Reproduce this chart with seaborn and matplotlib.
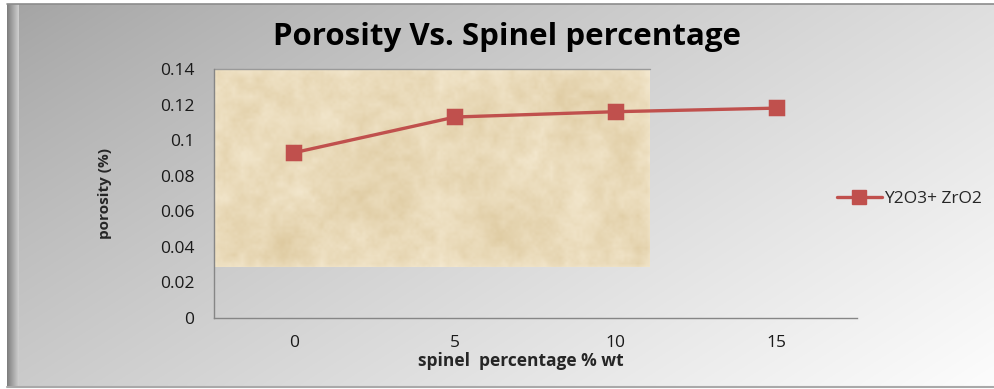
import numpy as np
import pandas as pd
import matplotlib
matplotlib.use("Agg")
import matplotlib.pyplot as plt
from matplotlib.lines import Line2D
import seaborn as sns

# Data
spinel_pct = ["0", "5", "10", "15"]
porosity = [0.093, 0.113, 0.116, 0.118]
series_name = "Y2O3+ ZrO2"
y_ticks = [0, 0.02, 0.04, 0.06, 0.08, 0.1, 0.12, 0.14]
y_tick_labels = ["0", "0.02", "0.04", "0.06", "0.08", "0.1", "0.12", "0.14"]

df = pd.DataFrame({"spinel": spinel_pct, "porosity": porosity})

sns.set_theme(style="white")
plt.rcParams["font.family"] = ["Open Sans", "DejaVu Sans"]

W, H, DPI = 995, 389, 100
fig = plt.figure(figsize=(W / DPI, H / DPI), dpi=DPI)
fig.patch.set_facecolor("white")

# Chart-area background: diagonal grey gradient with a bevelled left edge
bg = fig.add_axes([0, 0, 1, 1], zorder=-10)
bg.set_xlim(0, W)
bg.set_ylim(H, 0)
bg.axis("off")
gx, gy = np.meshgrid(np.linspace(0, 1, 400), np.linspace(0, 1, 160))
t = np.clip(0.62 * gx + 0.38 * gy, 0, 1)
shade = 0.64 + 0.35 * t ** 0.85
grad = np.dstack([shade, shade, shade])
bg.imshow(grad, extent=(8, W, 386, 4), aspect="auto", interpolation="bicubic")
# bevel on the left edge
bev = np.linspace(0.50, 0.80, 12)
bev_img = np.repeat(np.dstack([bev, bev, bev]), 2, axis=0)
bg.imshow(bev_img, extent=(7, 19, 386, 4), aspect="auto", interpolation="bilinear")
bg.plot([7, W], [4, 4], color="#8c8c8c", lw=1.2)
bg.plot([7, W], [386.5, 386.5], color="#a9a9a9", lw=1.5)

# Plot area
ax = fig.add_axes([214 / W, 1 - 318 / H, (857 - 214) / W, (318 - 69) / H])
ax.set_facecolor("none")

# Parchment texture panel behind the line
rng = np.random.default_rng(7)
tex = np.zeros((200, 440))
for s, a in [(3, 0.12), (8, 0.28), (20, 0.32), (50, 0.28)]:
    small = rng.random((200 // s + 2, 440 // s + 2))
    big = np.kron(small, np.ones((s, s)))[:200, :440]
    k = max(2, s)
    ker = np.ones(k) / k
    big = np.apply_along_axis(lambda r: np.convolve(r, ker, mode="same"), 1, big)
    big = np.apply_along_axis(lambda c: np.convolve(c, ker, mode="same"), 0, big)
    tex += a * big
tex = (tex - tex.min()) / (tex.max() - tex.min())
light = np.array([245, 234, 210]) / 255
dark = np.array([222, 202, 160]) / 255
tex_rgb = light[None, None, :] * (1 - tex[..., None]) + dark[None, None, :] * tex[..., None]
ax.imshow(tex_rgb, extent=(-0.5, 2.21, 0.0284, 0.14), aspect="auto",
          interpolation="bilinear", zorder=0)
ax.plot([-0.5, 2.21], [0.14, 0.14], color="#9a9a9a", lw=1.0, zorder=1, clip_on=False)

line_color = "#C0504D"
sns.pointplot(data=df, x="spinel", y="porosity", order=spinel_pct, color=line_color,
              markers="s", linewidth=2.4, markersize=10.5, errorbar=None, ax=ax, zorder=3)

ax.set_xlim(-0.5, 3.5)
ax.set_ylim(0, 0.14)
ax.set_yticks(y_ticks)
ax.set_yticklabels(y_tick_labels)
ax.set_xticks(range(len(spinel_pct)))
ax.set_xticklabels(spinel_pct)
ax.set_xticks(np.arange(-0.5, 3.6, 1.0), minor=True)
ax.tick_params(axis="x", which="major", length=0, pad=12, labelsize=12.5, colors="#1a1a1a")
ax.tick_params(axis="x", which="minor", length=5, width=1, color="#868686", direction="out")
ax.tick_params(axis="y", length=6, width=1, color="#868686", direction="out", pad=8,
               labelsize=12.5, labelcolor="#1a1a1a")
for side in ["top", "right"]:
    ax.spines[side].set_visible(False)
for side in ["left", "bottom"]:
    ax.spines[side].set_color("#868686")
    ax.spines[side].set_linewidth(1.0)
ax.grid(False)

ax.set_xlabel("spinel  percentage % wt", fontsize=12.5, fontweight="bold")
ax.xaxis.set_label_coords((521 - 214) / (857 - 214), -(361 - 318) / (318 - 69))
ax.xaxis.label.set_va("center")
ax.set_ylabel("porosity (%)", fontsize=11, fontweight="bold")
ax.yaxis.set_label_coords(-(214 - 105) / (857 - 214), 0.5)
ax.yaxis.label.set_va("center")

fig.text(507 / W, 1 - 37 / H, "Porosity Vs. Spinel percentage", ha="center", va="center",
         fontsize=22.5, fontweight="bold", color="black")

handle = Line2D([], [], color=line_color, lw=2.4, marker="s", markersize=10.5)
fig.legend([handle], [series_name], loc="center left",
           bbox_to_anchor=(828 / W, 1 - 199 / H), frameon=False, fontsize=12.5,
           handlelength=2.6, handletextpad=0.1, borderpad=0)

fig.savefig("out.png", dpi=DPI)
